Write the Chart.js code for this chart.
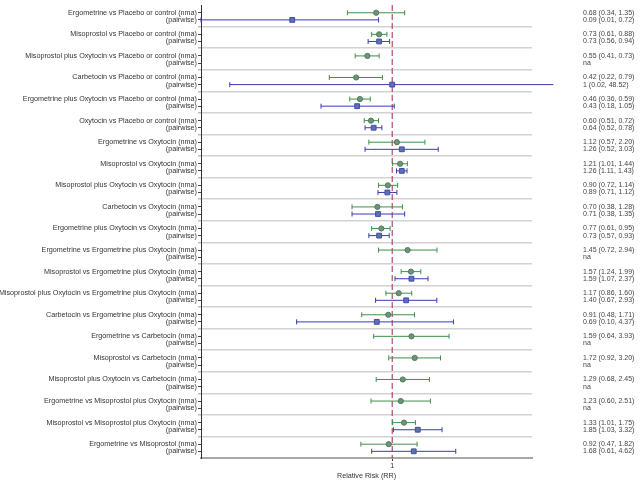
<!DOCTYPE html>
<html>
<head>
<meta charset="utf-8">
<script src="https://cdn.jsdelivr.net/npm/chart.js@4.4.1/dist/chart.umd.min.js"></script>
<style>
  body { margin: 0; background: #fff; }
  #wrap { width: 640px; height: 480px; }
</style>
</head>
<body>
<div id="wrap"><canvas id="forest" width="640" height="480"></canvas></div>
<script>
(function(){
    // comparisons, top to bottom
    const comparisons = [
      "Ergometrine vs Placebo or control",
      "Misoprostol vs Placebo or control",
      "Misoprostol plus Oxytocin vs Placebo or control",
      "Carbetocin vs Placebo or control",
      "Ergometrine plus Oxytocin vs Placebo or control",
      "Oxytocin vs Placebo or control",
      "Ergometrine vs Oxytocin",
      "Misoprostol vs Oxytocin",
      "Misoprostol plus Oxytocin vs Oxytocin",
      "Carbetocin vs Oxytocin",
      "Ergometrine plus Oxytocin vs Oxytocin",
      "Ergometrine vs Ergometrine plus Oxytocin",
      "Misoprostol vs Ergometrine plus Oxytocin",
      "Misoprostol plus Oxytocin vs Ergometrine plus Oxytocin",
      "Carbetocin vs Ergometrine plus Oxytocin",
      "Ergometrine vs Carbetocin",
      "Misoprostol vs Carbetocin",
      "Misoprostol plus Oxytocin vs Carbetocin",
      "Ergometrine vs Misoprostol plus Oxytocin",
      "Misoprostol vs Misoprostol plus Oxytocin",
      "Ergometrine vs Misoprostol"
    ];

    const nmaRR = [0.68, 0.73, 0.55, 0.42, 0.46, 0.60, 1.12, 1.21, 0.90, 0.70, 0.77, 1.45, 1.57, 1.17, 0.91, 1.59, 1.72, 1.29, 1.23, 1.33, 0.92];
    const nmaLo = [0.34, 0.61, 0.41, 0.22, 0.36, 0.51, 0.57, 1.01, 0.72, 0.38, 0.61, 0.72, 1.24, 0.86, 0.48, 0.64, 0.92, 0.68, 0.60, 1.01, 0.47];
    const nmaHi = [1.35, 0.88, 0.73, 0.79, 0.59, 0.72, 2.20, 1.44, 1.14, 1.28, 0.95, 2.94, 1.99, 1.60, 1.71, 3.93, 3.20, 2.45, 2.51, 1.75, 1.82];

    // null = na (no direct evidence)
    const pwRR = [0.09, 0.73, null, 1, 0.43, 0.64, 1.26, 1.26, 0.89, 0.71, 0.73, null, 1.59, 1.40, 0.69, null, null, null, null, 1.85, 1.68];
    const pwLo = [0.01, 0.56, null, 0.02, 0.18, 0.52, 0.52, 1.11, 0.71, 0.38, 0.57, null, 1.07, 0.67, 0.10, null, null, null, null, 1.03, 0.61];
    const pwHi = [0.72, 0.94, null, 48.52, 1.05, 0.78, 3.03, 1.43, 1.12, 1.35, 0.93, null, 2.37, 2.93, 4.37, null, null, null, null, 3.32, 4.62];

    const xTicks = [1];
    const nRows = comparisons.length;
    const NMA_OFF = 0.36, PW_OFF = 0.69;
    const font = { family: "'Liberation Sans', Arial, sans-serif", size: 7.2 };

    function fmt(v) {
      return Number.isInteger(v) ? String(v) : v.toFixed(2);
    }
    function ciText(rr, lo, hi) {
      return rr === null ? "na" : `${fmt(rr)} (${fmt(lo)}, ${fmt(hi)})`;
    }

    // tick values: band boundaries (separators) plus one tick per row label
    const yTickValues = [];
    for (let i = 1; i < nRows; i++) yTickValues.push(i);
    for (let i = 0; i < nRows; i++) { yTickValues.push(i + NMA_OFF); yTickValues.push(i + PW_OFF); }
    yTickValues.sort((a, b) => a - b);

    function isBoundary(v) { return Math.abs(v - Math.round(v)) < 1e-6; }
    function rowOf(v) { return Math.floor(v); }
    function isNma(v) { return v - Math.floor(v) < 0.5; }

    function ciData(rr, lo, hi, off) {
      const out = [];
      rr.forEach((v, i) => {
        if (v === null) return;
        out.push({ x: lo[i], y: i + off }, { x: hi[i], y: i + off }, { x: null, y: null });
      });
      return out;
    }
    function pointData(rr, off) {
      return rr.map((v, i) => v === null ? null : { x: v, y: i + off }).filter(p => p);
    }

    const leftLabel = v => {
      if (isBoundary(v)) return "";
      const r = rowOf(v);
      return isNma(v) ? comparisons[r] + " (nma)" : "(pairwise)";
    };
    const rightLabel = v => {
      if (isBoundary(v)) return "";
      const r = rowOf(v);
      return isNma(v) ? ciText(nmaRR[r], nmaLo[r], nmaHi[r]) : ciText(pwRR[r], pwLo[r], pwHi[r]);
    };
    const setYTicks = scale => { scale.ticks = yTickValues.map(v => ({ value: v })); };
    // no extra room above/below the plot for half-label heights
    const noPad = scale => { scale.paddingTop = 0; scale.paddingBottom = 0; scale.paddingLeft = 0; scale.paddingRight = 0; };

    const ctx = document.getElementById("forest").getContext("2d");
    new Chart(ctx, {
      type: "scatter",
      data: {
        datasets: [
          {
            type: "line",
            data: [{ x: 1, y: 0 }, { x: 1, y: nRows }],
            borderColor: "#a3284f",
            borderWidth: 1,
            borderDash: [6, 3],
            pointRadius: 0,
            order: 5
          },
          {
            type: "line",
            data: ciData(nmaRR, nmaLo, nmaHi, NMA_OFF),
            borderColor: "#3f8f4a",
            borderWidth: 1,
            spanGaps: false,
            pointStyle: "line",
            rotation: 90,
            pointRadius: 2.5,
            pointBorderColor: "#3f8f4a",
            pointBorderWidth: 1,
            order: 3
          },
          {
            type: "line",
            data: ciData(pwRR, pwLo, pwHi, PW_OFF),
            borderColor: "#3a3ab8",
            borderWidth: 1,
            spanGaps: false,
            pointStyle: "line",
            rotation: 90,
            pointRadius: 2.5,
            pointBorderColor: "#3a3ab8",
            pointBorderWidth: 1,
            clip: false,
            order: 3
          },
          {
            data: pointData(nmaRR, NMA_OFF),
            pointStyle: "circle",
            pointRadius: 2.6,
            backgroundColor: "#6f9278",
            borderColor: "#4f7d5a",
            borderWidth: 1,
            order: 1
          },
          {
            data: pointData(pwRR, PW_OFF),
            pointStyle: "rect",
            pointRadius: 3.4,
            backgroundColor: "#5f70b0",
            borderColor: "#3e4fa8",
            borderWidth: 1,
            order: 1
          }
        ]
      },
      options: {
        responsive: false,
        animation: false,
        events: [],
        layout: { padding: 0 },
        plugins: { legend: { display: false }, tooltip: { enabled: false } },
        scales: {
          x: {
            type: "logarithmic",
            min: 0.01,
            max: 29,
            afterBuildTicks: scale => { scale.ticks = xTicks.map(v => ({ value: v })); },
            afterFit: scale => { scale.height = 22; noPad(scale); },
            ticks: { callback: v => xTicks.includes(v) ? String(v) : "", color: "#333", font: font, padding: 1, maxRotation: 0 },
            grid: { drawOnChartArea: false, tickLength: 3, color: "#333" },
            border: { color: "#a8a8a8", width: 2 },
            title: { display: true, text: "Relative Risk (RR)", color: "#333", font: font, padding: { top: 1, bottom: 0 } }
          },
          y: {
            type: "linear",
            position: "left",
            reverse: true,
            min: 0,
            max: nRows,
            afterBuildTicks: setYTicks,
            afterFit: scale => { scale.width = 201; noPad(scale); },
            ticks: { autoSkip: false, callback: leftLabel, color: "#333", font: font, padding: 1 },
            grid: {
              color: c => isBoundary(c.tick.value) ? "#d2d2d2" : "rgba(0,0,0,0)",
              tickColor: c => isBoundary(c.tick.value) ? "#bbb" : "#444",
              lineWidth: c => isBoundary(c.tick.value) ? 1.5 : 1,
              tickLength: 3
            },
            border: { color: "#333", width: 1 }
          },
          y2: {
            type: "linear",
            position: "right",
            reverse: true,
            min: 0,
            max: nRows,
            afterBuildTicks: setYTicks,
            afterFit: scale => { scale.width = 108; noPad(scale); },
            ticks: { autoSkip: false, callback: rightLabel, color: "#444", font: { family: font.family, size: 7 }, padding: 1 },
            grid: { display: false, drawTicks: true, tickLength: 50 },
            border: { display: false }
          }
        }
      }
    });
})()
</script>
</body>
</html>
